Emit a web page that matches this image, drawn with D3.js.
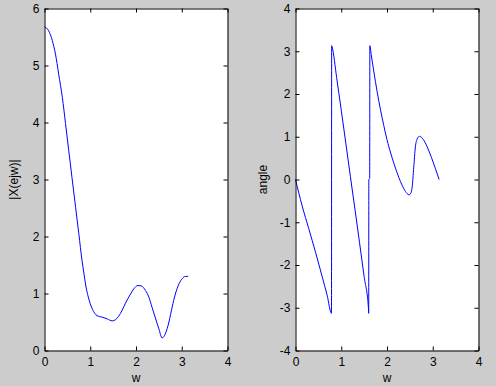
<!DOCTYPE html>
<html lang="en">
<head>
<meta charset="UTF-8">
<title>DTFT magnitude and phase</title>
<script src="https://d3js.org/d3.v7.min.js"></script>
<style>
  body { margin: 0; background: #cccccc; }
  text { font-family: "Liberation Sans", Arial, Helvetica, sans-serif; font-size: 12px; fill: #000; }
</style>
</head>
<body>
<script>

// values
var magW   = [0, 0.09, 0.17, 0.24, 0.31, 0.39, 0.46, 0.53, 0.60, 0.68, 0.75, 0.82, 0.86, 0.90, 0.95,
              1.00, 1.05, 1.10, 1.15, 1.26, 1.37, 1.48, 1.55, 1.62, 1.70, 1.77, 1.88, 1.95, 2.04,
              2.11, 2.21, 2.28, 2.35, 2.43, 2.50, 2.57, 2.645, 2.72, 2.79, 2.86, 2.94, 3.01, 3.08, 3.14];
var magVal = [5.68, 5.61, 5.44, 5.20, 4.85, 4.44, 3.98, 3.51, 3.04, 2.51, 2.05, 1.58, 1.36, 1.15, 0.96,
              0.82, 0.72, 0.65, 0.61, 0.585, 0.555, 0.52, 0.54, 0.60, 0.71, 0.83, 0.99, 1.08, 1.14,
              1.135, 1.05, 0.94, 0.76, 0.555, 0.38, 0.22, 0.30, 0.50, 0.76, 0.99, 1.17, 1.26, 1.30, 1.30];

var angW   = [0, 0.146, 0.29, 0.437, 0.58, 0.69, 0.787, 0.790, 0.80, 0.90, 1.00, 1.10,
              1.20, 1.30, 1.40, 1.50, 1.595, 1.600, 1.603, 1.622, 1.625, 1.655, 1.71, 1.785,
              1.86, 1.93, 2.00, 2.08, 2.15, 2.22, 2.295, 2.37, 2.44, 2.48, 2.52, 2.55, 2.585, 2.62, 2.66,
              2.71, 2.79, 2.88, 2.97, 3.06, 3.14];
var angVal = [0, -0.62, -1.15, -1.70, -2.26, -2.70, -3.13, 3.13, 3.10, 2.38, 1.62, 0.85,
              0.07, -0.70, -1.48, -2.27, -3.02, -3.13, 0, 0.02, 3.13, 2.92, 2.54, 2.05,
              1.62, 1.26, 0.93, 0.62, 0.38, 0.16, -0.05, -0.22, -0.33, -0.36, -0.32, -0.18, 0.29, 0.76, 0.95,
              1.01, 0.94, 0.76, 0.52, 0.25, 0.0];

var xTicks    = [0, 1, 2, 3, 4];
var magYTicks = [0, 1, 2, 3, 4, 5, 6];
var angYTicks = [-4, -3, -2, -1, 0, 1, 2, 3, 4];

var svg = d3.select("body").append("svg")
    .attr("width", 496)
    .attr("height", 386);

function panel(opts) {
    var x = d3.scaleLinear().domain([0, 4]).range([opts.left, opts.right]);
    var y = d3.scaleLinear().domain(opts.yDomain).range([350.5, 8.5]);
    var fmt = function (d) { return String(d); };

    svg.append("rect")
        .attr("x", opts.left).attr("y", 8.5)
        .attr("width", opts.right - opts.left).attr("height", 342)
        .attr("fill", "#fff");

    var pts = opts.w.map(function (d, i) { return [d, opts.v[i]]; });
    var line = d3.line()
        .x(function (d) { return x(d[0]); })
        .y(function (d) { return y(d[1]); })
        .curve(d3.curveMonotoneX);
    svg.append("path")
        .datum(pts)
        .attr("d", line)
        .attr("fill", "none")
        .attr("stroke", "#0000ff")
        .attr("stroke-width", 1);

    // ticks point inward on all four sides
    svg.append("g").attr("transform", "translate(0,350.5)")
        .call(d3.axisBottom(x).tickValues(xTicks).tickFormat(fmt).tickSizeInner(-4).tickSizeOuter(0).tickPadding(6.5));
    svg.append("g").attr("transform", "translate(0,8.5)")
        .call(d3.axisTop(x).tickValues(xTicks).tickFormat("").tickSizeInner(-4).tickSizeOuter(0));
    svg.append("g").attr("transform", "translate(" + opts.left + ",0)")
        .call(d3.axisLeft(y).tickValues(opts.yTicks).tickFormat(fmt).tickSizeInner(-4).tickSizeOuter(0).tickPadding(5));
    svg.append("g").attr("transform", "translate(" + opts.right + ",0)")
        .call(d3.axisRight(y).tickValues(opts.yTicks).tickFormat("").tickSizeInner(-4).tickSizeOuter(0));

    svg.selectAll(".domain").attr("stroke", "#000");
    svg.selectAll(".tick line").attr("stroke", "#000");
    svg.selectAll(".tick text").attr("font-size", 12)
        .attr("font-family", "Liberation Sans, Arial, sans-serif").attr("fill", "#000");

    svg.append("text")
        .attr("x", (opts.left + opts.right) / 2).attr("y", 382)
        .attr("text-anchor", "middle")
        .text("w");

    svg.append("text")
        .attr("transform", "translate(" + opts.labelX + ",179.5) rotate(-90)")
        .attr("text-anchor", "middle")
        .text(opts.yLabel);
}

panel({ left: 44.5, right: 227.5, yDomain: [0, 6], yTicks: magYTicks,
        w: magW, v: magVal, yLabel: "|X(ejw)|", labelX: 18 });
panel({ left: 295.5, right: 478.5, yDomain: [-4, 4], yTicks: angYTicks,
        w: angW, v: angVal, yLabel: "angle", labelX: 267 });

</script>
</body>
</html>
